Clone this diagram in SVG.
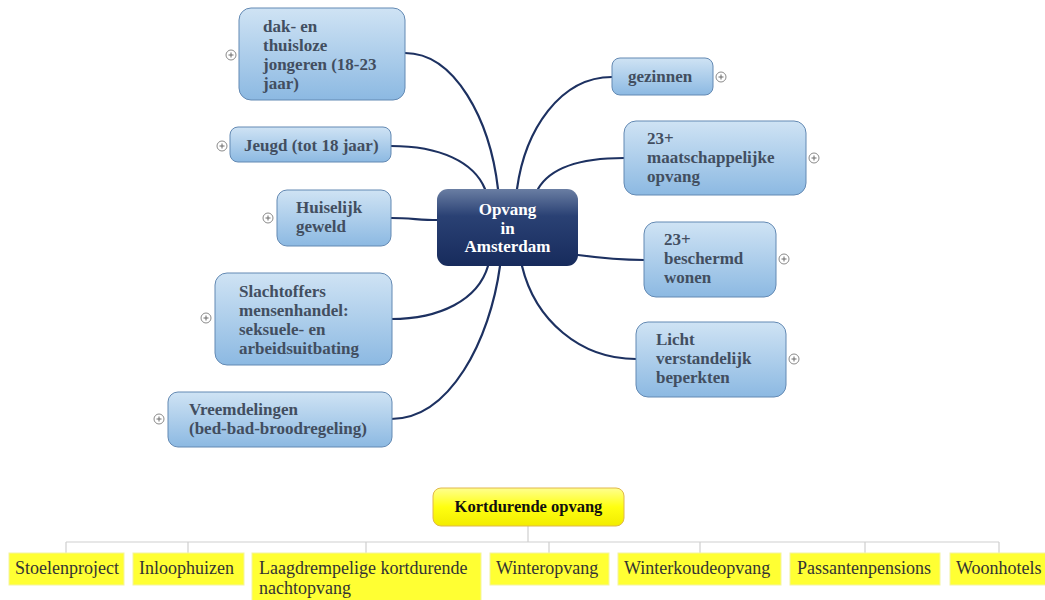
<svg xmlns="http://www.w3.org/2000/svg" width="1045" height="600" viewBox="0 0 1045 600">
  <defs>
    <linearGradient id="topicFill" x1="0" y1="0" x2="0" y2="1">
      <stop offset="0" stop-color="#cfe3f4"/>
      <stop offset="1" stop-color="#8cb9e2"/>
    </linearGradient>
    <linearGradient id="centralFill" x1="0" y1="0" x2="0" y2="1">
      <stop offset="0" stop-color="#6a7ea3"/>
      <stop offset="0.35" stop-color="#2a4174"/>
      <stop offset="1" stop-color="#172b5c"/>
    </linearGradient>
    <linearGradient id="yellowFill" x1="0" y1="0" x2="0" y2="1">
      <stop offset="0" stop-color="#ffff90"/>
      <stop offset="0.5" stop-color="#ffff10"/>
      <stop offset="1" stop-color="#f2ec00"/>
    </linearGradient>
    <g id="plus">
      <circle r="5" fill="#fff" stroke="#8a8a8a" stroke-width="1"/>
      <path d="M-2.5,0 H2.5 M0,-2.5 V2.5" stroke="#6a6a6a" stroke-width="1"/>
    </g>
  </defs>
  <style>
    .topic { fill: url(#topicFill); stroke: #6389b3; stroke-width: 1; }
    .topic-text { font-family: "Liberation Serif", "Times New Roman", serif; font-weight: bold; font-size: 17px; fill: #424e60; }
    .central-text { font-family: "Liberation Serif", "Times New Roman", serif; font-weight: bold; font-size: 17px; fill: #ffffff; text-anchor: middle; }
    .branch { fill: none; stroke: #1d3161; stroke-width: 2.2; stroke-linecap: round; }
    .org-line { fill: none; stroke: #cfcfcf; stroke-width: 1.2; }
    .org-root { fill: url(#yellowFill); stroke: #e0b84a; stroke-width: 1; }
    .org-root-text { font-family: "Liberation Serif", "Times New Roman", serif; font-weight: bold; font-size: 16.5px; fill: #111; text-anchor: middle; }
    .org-leaf { fill: #ffff33; stroke: #f4f4a0; stroke-width: 1; }
    .org-leaf-text { font-family: "Liberation Serif", "Times New Roman", serif; font-size: 18px; fill: #333; }
  </style>

  <rect width="1045" height="600" fill="#ffffff"/>

  <!-- mind map branches -->
  <g id="connectors">
    <path class="branch" d="M405,53 C455,53 490,120 498,189"/>
    <path class="branch" d="M391,146 C440,146 474,162 485,189"/>
    <path class="branch" d="M391,218 C410,218 420,220 437,220"/>
    <path class="branch" d="M391,319 C440,319 478,300 488,266"/>
    <path class="branch" d="M391,419 C450,419 490,340 500,266"/>
    <path class="branch" d="M612,77 C560,77 525,130 517,189"/>
    <path class="branch" d="M624,158 C580,158 550,168 538,189"/>
    <path class="branch" d="M578,255 C600,258 620,260 644,260"/>
    <path class="branch" d="M636,359 C580,359 535,320 522,266"/>
    <!-- org chart lines -->
    <path class="org-line" d="M528,526 V542 M66,542 H999 M66,542 V553 M188,542 V553 M366,542 V553 M549,542 V553 M700,542 V553 M865,542 V553 M999,542 V553"/>
  </g>

  <g id="central">
    <rect x="437" y="189" width="141" height="77" rx="11" fill="url(#centralFill)"/>
    <text class="central-text" x="507.5" y="215">Opvang</text>
    <text class="central-text" x="507.5" y="233.5">in</text>
    <text class="central-text" x="507.5" y="252">Amsterdam</text>
  </g>

  <g id="node-jongeren">
    <rect class="topic" x="239" y="8" width="166" height="92" rx="12"/>
    <text class="topic-text" x="263" y="32">dak- en</text>
    <text class="topic-text" x="263" y="51">thuisloze</text>
    <text class="topic-text" x="263" y="70">jongeren (18-23</text>
    <text class="topic-text" x="263" y="89">jaar)</text>
    <use href="#plus" x="231" y="55"/>
  </g>

  <g id="node-jeugd">
    <rect class="topic" x="230" y="127" width="161" height="35" rx="8"/>
    <text class="topic-text" x="244" y="151">Jeugd (tot 18 jaar)</text>
    <use href="#plus" x="222" y="146"/>
  </g>

  <g id="node-huiselijk">
    <rect class="topic" x="277" y="190" width="114" height="56" rx="10"/>
    <text class="topic-text" x="296" y="213">Huiselijk</text>
    <text class="topic-text" x="296" y="232">geweld</text>
    <use href="#plus" x="268" y="218"/>
  </g>

  <g id="node-slachtoffers">
    <rect class="topic" x="215" y="273" width="177" height="92" rx="12"/>
    <text class="topic-text" x="239" y="297">Slachtoffers</text>
    <text class="topic-text" x="239" y="316">mensenhandel:</text>
    <text class="topic-text" x="239" y="335">seksuele- en</text>
    <text class="topic-text" x="239" y="354">arbeidsuitbating</text>
    <use href="#plus" x="206" y="318"/>
  </g>

  <g id="node-vreemdelingen">
    <rect class="topic" x="168" y="392" width="224" height="55" rx="10"/>
    <text class="topic-text" x="189" y="415">Vreemdelingen</text>
    <text class="topic-text" x="189" y="434">(bed-bad-broodregeling)</text>
    <use href="#plus" x="159" y="419"/>
  </g>

  <g id="node-gezinnen">
    <rect class="topic" x="612" y="58" width="101" height="37" rx="8"/>
    <text class="topic-text" x="628" y="82">gezinnen</text>
    <use href="#plus" x="721" y="77"/>
  </g>

  <g id="node-maatschappelijk">
    <rect class="topic" x="624" y="121" width="182" height="74" rx="12"/>
    <text class="topic-text" x="647" y="144">23+</text>
    <text class="topic-text" x="647" y="163">maatschappelijke</text>
    <text class="topic-text" x="647" y="182">opvang</text>
    <use href="#plus" x="814" y="158"/>
  </g>

  <g id="node-beschermd">
    <rect class="topic" x="644" y="222" width="132" height="75" rx="12"/>
    <text class="topic-text" x="664" y="245">23+</text>
    <text class="topic-text" x="664" y="264">beschermd</text>
    <text class="topic-text" x="664" y="283">wonen</text>
    <use href="#plus" x="784" y="259"/>
  </g>

  <g id="node-licht">
    <rect class="topic" x="636" y="322" width="150" height="75" rx="12"/>
    <text class="topic-text" x="656" y="345">Licht</text>
    <text class="topic-text" x="656" y="364">verstandelijk</text>
    <text class="topic-text" x="656" y="383">beperkten</text>
    <use href="#plus" x="794" y="359"/>
  </g>

  <!-- org chart -->
  <g id="node-kortdurende">
    <rect class="org-root" x="433" y="488" width="191" height="38" rx="8"/>
    <text class="org-root-text" x="528.5" y="512">Kortdurende opvang</text>
  </g>

  <g id="node-stoelenproject">
    <rect class="org-leaf" x="9" y="553" width="115" height="32"/>
    <text class="org-leaf-text" x="15" y="574">Stoelenproject</text>
  </g>
  <g id="node-inloophuizen">
    <rect class="org-leaf" x="133" y="553" width="111" height="32"/>
    <text class="org-leaf-text" x="139" y="574">Inloophuizen</text>
  </g>
  <g id="node-laagdrempelig">
    <rect class="org-leaf" x="252" y="553" width="229" height="50"/>
    <text class="org-leaf-text" x="259" y="574">Laagdrempelige kortdurende</text>
    <text class="org-leaf-text" x="259" y="594">nachtopvang</text>
  </g>
  <g id="node-winteropvang">
    <rect class="org-leaf" x="490" y="553" width="119" height="32"/>
    <text class="org-leaf-text" x="496" y="574">Winteropvang</text>
  </g>
  <g id="node-winterkoudeopvang">
    <rect class="org-leaf" x="618" y="553" width="163" height="32"/>
    <text class="org-leaf-text" x="624" y="574">Winterkoudeopvang</text>
  </g>
  <g id="node-passantenpensions">
    <rect class="org-leaf" x="790" y="553" width="150" height="32"/>
    <text class="org-leaf-text" x="797" y="574">Passantenpensions</text>
  </g>
  <g id="node-woonhotels">
    <rect class="org-leaf" x="950" y="553" width="98" height="32"/>
    <text class="org-leaf-text" x="956" y="574">Woonhotels</text>
  </g>
</svg>
